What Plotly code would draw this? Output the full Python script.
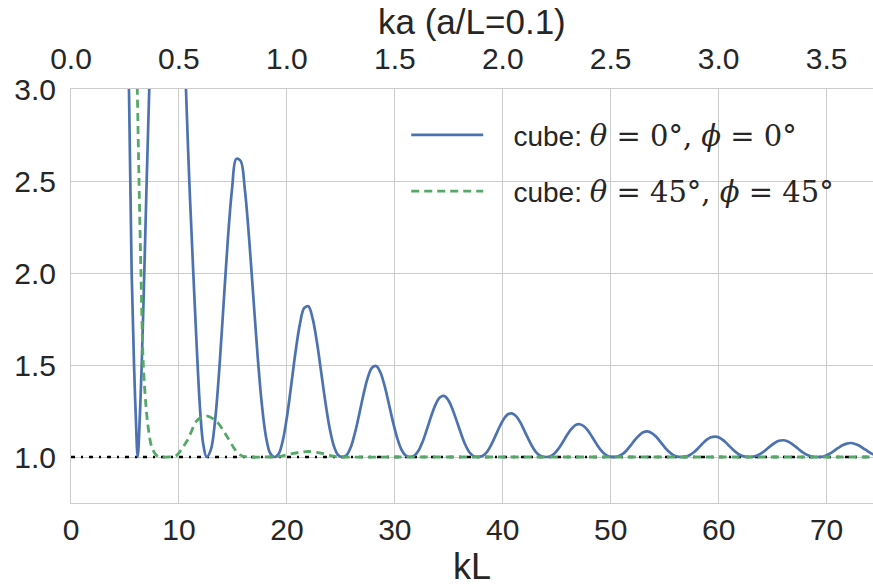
import plotly.graph_objects as go

# ---------------- data ----------------
kL_blue = [4.6, 5.0, 5.37, 5.62, 5.84, 5.99, 6.18, 6.39, 6.55, 6.79, 7.01, 7.25,
           7.6, 8.4, 9.2, 9.9, 10.3, 10.65, 10.96, 11.33, 11.73, 11.98, 12.25,
           12.566, 12.959, 13.352, 13.744, 14.137, 14.530, 14.923, 15.315, 15.708,
           16.101, 16.493, 16.886, 17.279, 17.671, 18.064, 18.457,
           18.850, 19.242, 19.635, 20.028, 20.420, 20.813, 21.206, 21.598, 21.991,
           22.384, 22.777, 23.169, 23.562, 23.955, 24.347, 24.740,
           25.133, 25.525, 25.918, 26.311, 26.704, 27.096, 27.489, 27.882, 28.274,
           28.667, 29.060, 29.452, 29.845, 30.238, 30.631, 31.023,
           31.416, 31.809, 32.201, 32.594, 32.987, 33.379, 33.772, 34.165, 34.558,
           34.950, 35.343, 35.736, 36.128, 36.521, 36.914, 37.306,
           37.699, 38.092, 38.485, 38.877, 39.270, 39.663, 40.055, 40.448, 40.841,
           41.233, 41.626, 42.019, 42.412, 42.804, 43.197, 43.590,
           43.982, 44.375, 44.768, 45.160, 45.553, 45.946, 46.338, 46.731, 47.124,
           47.517, 47.909, 48.302, 48.695, 49.087, 49.480, 49.873,
           50.265, 50.658, 51.051, 51.444, 51.836, 52.229, 52.622, 53.014, 53.407,
           53.800, 54.192, 54.585, 54.978, 55.371, 55.763, 56.156,
           56.549, 56.941, 57.334, 57.727, 58.119, 58.512, 58.905, 59.298, 59.690,
           60.083, 60.476, 60.868, 61.261, 61.654, 62.046, 62.439,
           62.832, 63.225, 63.617, 64.010, 64.403, 64.795, 65.188, 65.581, 65.973,
           66.366, 66.759, 67.152, 67.544, 67.937, 68.330, 68.722,
           69.115, 69.508, 69.900, 70.293, 70.686, 71.079, 71.471, 71.864, 72.257,
           72.649, 73.042, 73.435, 73.827, 74.220, 74.613]
val_blue = [6.5, 4.6, 3.0, 2.0, 1.5, 1.24, 1.0, 1.24, 1.5, 2.0, 2.5, 3.0,
            3.8, 4.8, 5.0, 4.4, 3.6, 3.0, 2.5, 2.0, 1.5, 1.24, 1.07,
            1.0, 1.040, 1.201, 1.482, 1.833, 2.182, 2.459, 2.620, 2.610,
            2.456, 2.194, 1.875, 1.558, 1.292, 1.110, 1.020,
            1.0, 1.018, 1.093, 1.227, 1.399, 1.576, 1.722, 1.809, 1.819,
            1.753, 1.626, 1.465, 1.300, 1.159, 1.061, 1.011,
            1.0, 1.010, 1.053, 1.132, 1.233, 1.340, 1.430, 1.485, 1.495,
            1.459, 1.385, 1.288, 1.187, 1.100, 1.038, 1.007,
            1.0, 1.007, 1.035, 1.086, 1.153, 1.224, 1.285, 1.323, 1.332,
            1.309, 1.260, 1.195, 1.128, 1.068, 1.026, 1.005,
            1.0, 1.005, 1.024, 1.060, 1.108, 1.159, 1.203, 1.231, 1.237,
            1.222, 1.188, 1.141, 1.093, 1.050, 1.019, 1.004,
            1.0, 1.003, 1.018, 1.045, 1.080, 1.118, 1.151, 1.173, 1.178,
            1.167, 1.142, 1.107, 1.070, 1.038, 1.015, 1.003,
            1.0, 1.003, 1.014, 1.034, 1.062, 1.092, 1.117, 1.134, 1.139,
            1.130, 1.111, 1.084, 1.055, 1.030, 1.012, 1.002,
            1.0, 1.002, 1.011, 1.027, 1.049, 1.073, 1.094, 1.107, 1.111,
            1.105, 1.089, 1.067, 1.044, 1.024, 1.009, 1.002,
            1.0, 1.002, 1.009, 1.022, 1.040, 1.059, 1.076, 1.088, 1.091,
            1.086, 1.073, 1.055, 1.036, 1.020, 1.008, 1.001,
            1.0, 1.001, 1.007, 1.018, 1.033, 1.049, 1.064, 1.073, 1.076,
            1.071, 1.061, 1.046, 1.031, 1.017, 1.006]

kL_green = [5.8, 6.14, 6.3, 6.48, 6.7, 7.07, 7.47, 7.9, 8.3, 9.0, 9.7, 10.77,
            11.7, 12.62, 13.54, 14.47, 15.2, 15.7, 16.3, 18.0, 19.5, 20.6,
            22.0, 23.3, 24.3, 25.2, 30.0, 40.0, 50.0, 60.0, 70.0, 74.6]
val_green = [4.0, 3.0, 2.5, 2.0, 1.5, 1.2, 1.056, 1.01, 1.0, 1.0, 1.005, 1.09,
             1.2, 1.222, 1.19, 1.11, 1.04, 1.01, 1.0, 1.0, 1.005, 1.02,
             1.03, 1.02, 1.005, 1.0, 1.0, 1.0, 1.0, 1.0, 1.0, 1.0]

baseline_kL = [0.0, 74.3]
baseline_val = [1.0, 1.0]

kL_range = [0.0, 74.3]
a_over_L = 0.1
ka_per_kL = 0.05          # ka = kL / 20 (top axis)

kL_ticks = [0, 10, 20, 30, 40, 50, 60, 70]
ka_ticks = [0.0, 0.5, 1.0, 1.5, 2.0, 2.5, 3.0, 3.5]
y_ticks = [1.0, 1.5, 2.0, 2.5, 3.0]

GAP = "\u2002\u2009\u2009"
MATH = "<span style=\"font-family:'DejaVu Serif';font-size:29px\">%s</span>"
label_blue = GAP + "cube: " + MATH % "<i>θ</i> = 0°, <i>ϕ</i> = 0°"
label_green = GAP + "cube: " + MATH % "<i>θ</i> = 45°, <i>ϕ</i> = 45°"

# ---------------- styling ----------------
BLUE = "#4C72B0"
GREEN = "#55A868"
GRID = "#cccccc"
TXT = "#262626"
FONT = "Liberation Sans, Arial, sans-serif"

fig = go.Figure()
fig.add_trace(go.Scatter(x=baseline_kL, y=baseline_val, mode="lines", showlegend=False,
                         line=dict(color="black", width=2.4, dash="4px,6px,2px,6px"),
                         hoverinfo="skip"))
fig.add_trace(go.Scatter(x=kL_blue, y=val_blue, mode="lines", name=label_blue,
                         line=dict(color=BLUE, width=2.7, shape="spline", smoothing=1.0),
                         legendgroup="a"))
fig.add_trace(go.Scatter(x=kL_green, y=val_green, mode="lines", name=label_green,
                         line=dict(color=GREEN, width=2.8, dash="8px,5px",
                                   shape="spline", smoothing=0.8),
                         legendgroup="b"))
# invisible trace that carries the top ka axis
fig.add_trace(go.Scatter(x=[v * ka_per_kL for v in kL_range], y=baseline_val,
                         xaxis="x2", mode="lines", showlegend=False,
                         line=dict(width=0), opacity=0, hoverinfo="skip"))

fig.update_layout(
    width=873, height=588,
    margin=dict(l=71, r=0, t=89, b=85),
    paper_bgcolor="white", plot_bgcolor="white",
    font=dict(family=FONT, size=30, color=TXT),
    showlegend=True,
    legend=dict(x=0.418, y=0.949, xanchor="left", yanchor="top",
                bgcolor="rgba(0,0,0,0)", font=dict(size=28, color=TXT),
                itemwidth=72, tracegroupgap=17),
    xaxis=dict(range=kL_range, tickvals=kL_ticks, ticks="", showgrid=True,
               gridcolor=GRID, gridwidth=1, zeroline=False, showline=True,
               linecolor=GRID, linewidth=1, mirror=True,
               tickfont=dict(size=30, color=TXT),
               title=dict(text="kL", font=dict(size=36, color=TXT), standoff=8)),
    xaxis2=dict(range=[v * ka_per_kL for v in kL_range], overlaying="x", side="top",
                tickvals=ka_ticks, tickformat=".1f", ticks="", showgrid=False,
                zeroline=False, showline=False, tickfont=dict(size=30, color=TXT),
                ticklabelstandoff=13),
    yaxis=dict(range=[0.75, 3.0], tickvals=y_ticks, tickformat=".1f", ticks="",
               showgrid=True, gridcolor=GRID, gridwidth=1, zeroline=False,
               showline=True, linecolor=GRID, linewidth=1, mirror=True,
               ticklabelstandoff=8, tickfont=dict(size=30, color=TXT)),
    annotations=[dict(text="ka (a/L=%.1f)" % a_over_L, xref="paper", yref="paper",
                      x=0.5, y=1.164, xanchor="center", yanchor="middle",
                      showarrow=False, font=dict(size=35, color=TXT))],
)

fig.write_html("out.html")
